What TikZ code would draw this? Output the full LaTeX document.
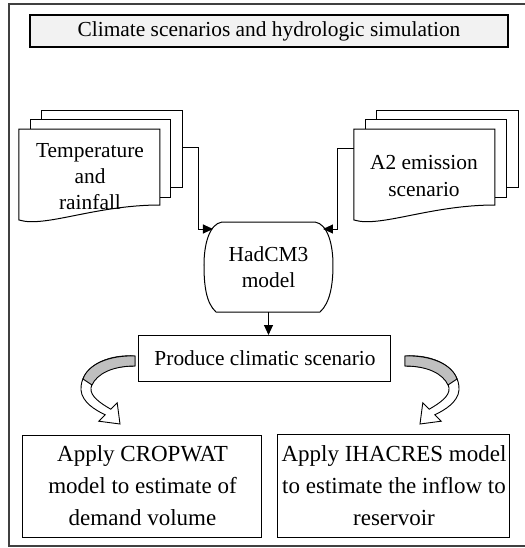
\documentclass[tikz,border=0pt]{standalone}
\usepackage{fontspec}
\setmainfont{Liberation Serif}
\usetikzlibrary{arrows.meta}
\tikzset{
  box/.style={draw, line width=0.5pt, inner sep=0pt, outer sep=0pt, align=center},
  doc/.style={draw, line width=0.5pt, fill=white},
  link/.style={line width=0.5pt, -{Triangle[length=5pt,width=4.5pt]}},
  ribbon/.style={draw, line width=0.45pt, fill=white},
  bigtext/.style={font=\fontsize{11.5}{16}\selectfont}
}

\begin{document}
\begin{tikzpicture}[x=0.5pt,y=-0.5pt,font=\fontsize{10.7}{13}\selectfont]
\useasboundingbox (0,0) rectangle (525,548);
% outer frame and title
\draw[line width=0.8pt,black!75] (9,4) rectangle (540,546);
\node[box,fill=black!5,line width=0.6pt,minimum width=239pt,minimum height=16pt] (title) at (269,31) {Climate scenarios and hydrologic simulation};

% input documents, left
\draw[doc] (42,110) rectangle (183,187);
\draw[doc] (31,119) rectangle (171,197);
\draw[doc] (19,129) -- (160,129) -- (160,205) .. controls (95,205) and (45,228) .. (19,220) -- cycle;
\node[align=center,inner sep=0pt] (temp) at (90,177) {Temperature\\and\\rainfall};
% input documents, right
\draw[doc] (377,110) rectangle (519,187);
\draw[doc] (366,119) rectangle (507,197);
\draw[doc] (354,129) -- (495,129) -- (495,205) .. controls (430,205) and (380,228) .. (354,220) -- cycle;
\node[align=center,inner sep=0pt,font=\fontsize{10.7}{13.5}\selectfont] (emis) at (424,176) {A2 emission\\scenario};

% model
\draw[line width=0.5pt] (222,222) -- (315,222) .. controls (328,224) and (333,245) .. (333,265) .. controls (333,285) and (330,303) .. (320,312) -- (216,312) .. controls (206,303) and (204,285) .. (204,265) .. controls (204,245) and (209,224) .. (222,222) -- cycle;
\node[align=center,inner sep=0pt,outer sep=0pt,minimum width=64.5pt,minimum height=45pt] (had) at (268.5,267) {HadCM3\\model};

\coordinate (tempout) at (183,147);
\coordinate (hadL) at (213,229);
\coordinate (emisout) at (354,148);
\coordinate (hadR) at (323,229);
\draw[link] (tempout) -- (199,147) |- (hadL);
\draw[link] (emisout) -- (338,148) |- (hadR);

% scenario and the two applications
\node[box,minimum width=126pt,minimum height=23pt] (prod) at (265,358) {Produce climatic scenario};
\draw[link] (had.south) -- (had.south |- prod.north);
\node[box,bigtext,minimum width=119.5pt,minimum height=51pt] (crop) at (142.5,486) {Apply CROPWAT\\model to estimate of\\demand volume};
\node[box,bigtext,minimum width=116pt,minimum height=51.5pt] (ihac) at (394,485.5) {Apply IHACRES model\\to estimate the inflow to\\reservoir};

% twisted block arrows
\begin{scope}
\draw[ribbon] (135,356) .. controls (105,354) and (80,368) .. (81,390) .. controls (82,402) and (95,410) .. (105.2,414.8) -- (98.8,421.2) -- (120,424) -- (117.2,402.8) -- (110.8,409.2) .. controls (100,403) and (90,396) .. (91,388) .. controls (92,374) and (110,366) .. (135,366) -- cycle;
\draw[line width=0.45pt,fill=black!25] (135,356) .. controls (110,355) and (88,364) .. (83,379) .. controls (86,381) and (89,383) .. (92,385) .. controls (97,374) and (112,366) .. (135,366) -- cycle;
\end{scope}
\begin{scope}[shift={(540,0)},xscale=-1]
\draw[ribbon] (135,356) .. controls (105,354) and (80,368) .. (81,390) .. controls (82,402) and (95,410) .. (105.2,414.8) -- (98.8,421.2) -- (120,424) -- (117.2,402.8) -- (110.8,409.2) .. controls (100,403) and (90,396) .. (91,388) .. controls (92,374) and (110,366) .. (135,366) -- cycle;
\draw[line width=0.45pt,fill=black!25] (135,356) .. controls (110,355) and (88,364) .. (83,379) .. controls (86,381) and (89,383) .. (92,385) .. controls (97,374) and (112,366) .. (135,366) -- cycle;
\end{scope}
\end{tikzpicture}
\end{document}
